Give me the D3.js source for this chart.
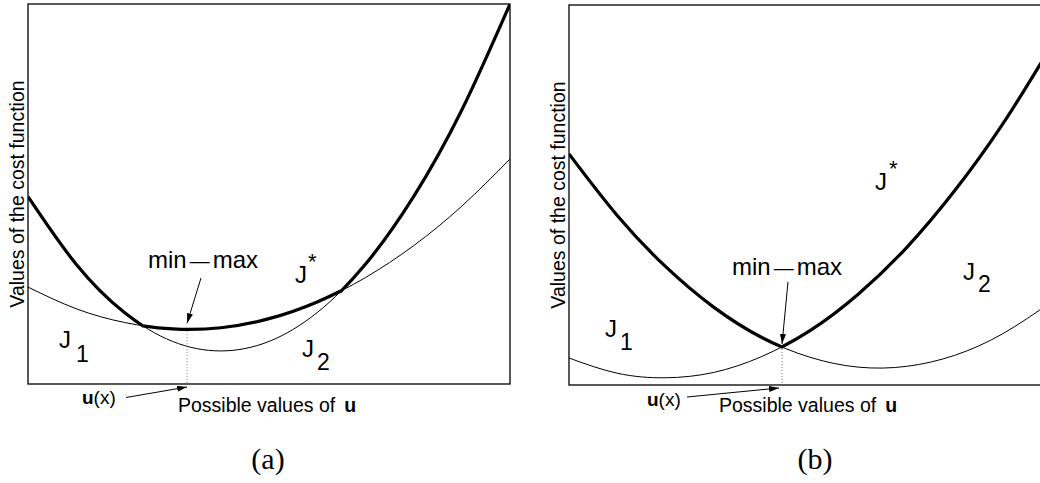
<!DOCTYPE html>
<html>
<head>
<meta charset="utf-8">
<script src="https://cdn.jsdelivr.net/npm/d3@7"></script>
<style>
  body { margin: 0; background: #fff; }
  svg text { font-family: "Liberation Sans", Arial, Helvetica, sans-serif; fill: #000; }
  svg text.cap { font-family: "Liberation Serif", "DejaVu Serif", serif; }
</style>
</head>
<body>
<div id="chart"></div>
<script>
// sampled cost curves, u = 0..10, J in the same 0..10 units
const uGrid = [0, 1, 2, 3, 4, 5, 6, 7, 8, 9, 10];

// panel (a)
const aJ1 = [2.55, 1.98, 1.62, 1.45, 1.48, 1.72, 2.16, 2.80, 3.64, 4.68, 5.92];
const aJ2 = [4.93, 3.15, 1.88, 1.12, 0.87, 1.12, 1.88, 3.15, 4.93, 7.21, 10.0];
const aCross = [2.39, 6.49];
const aMinMax = [3.30, 1.44];

// panel (b)
const bJ1 = [0.71, 0.31, 0.19, 0.33, 0.75, 1.43, 2.39, 3.61, 5.11, 6.87, 8.91];
const bJ2 = [6.08, 4.46, 3.12, 2.05, 1.25, 0.73, 0.47, 0.49, 0.78, 1.35, 2.18];
const bCross = [4.42];
const bMinMax = [4.42, 1.00];

const W = 1040, H = 483;
const svg = d3.select('#chart').append('svg')
  .attr('width', W).attr('height', H)
  .attr('viewBox', `0 0 ${W} ${H}`);
const defs = svg.append('defs');

defs.append('marker')
  .attr('id', 'head')
  .attr('viewBox', '0 0 10 6')
  .attr('refX', 10).attr('refY', 3)
  .attr('markerWidth', 10).attr('markerHeight', 6)
  .attr('markerUnits', 'userSpaceOnUse')
  .attr('orient', 'auto')
  .append('path').attr('d', 'M0,0L10,3L0,6Z').attr('fill', '#000');

function jLabel(g, pos, sub) {
  g.append('text').attr('x', pos[0]).attr('y', pos[1])
    .style('font-size', '24px').text('J');
  g.append('text').attr('x', pos[0] + pos[2]).attr('y', pos[1] + pos[3])
    .style('font-size', sub === '*' ? '22px' : '23px').text(sub);
}

function drawPanel(cfg) {
  const { id, left, top, w, h, j1, j2, cross, minMax, lab } = cfg;
  const x = d3.scaleLinear().domain([0, 10]).range([0, w]);
  const y = d3.scaleLinear().domain([0, 10]).range([h, 0]);
  const g = svg.append('g').attr('transform', `translate(${left},${top})`);

  defs.append('clipPath').attr('id', id + '-plot')
    .append('rect').attr('width', w).attr('height', h);

  const line = d3.line()
    .x((d, i) => x(uGrid[i]))
    .y(d => y(d))
    .curve(d3.curveNatural);

  const plot = g.append('g').attr('clip-path', `url(#${id}-plot)`);

  plot.selectAll('path.thin').data([j1, j2]).join('path')
    .attr('class', 'thin')
    .attr('d', line)
    .attr('fill', 'none').attr('stroke', '#000').attr('stroke-width', 1);

  // J* = upper envelope: between crossings take whichever curve is higher
  const bounds = [0, ...cross, 10];
  d3.pairs(bounds).forEach(([u0, u1], k) => {
    const idx = Math.round((u0 + u1) / 2);
    const upper = j1[idx] > j2[idx] ? j1 : j2;
    const cid = `${id}-seg${k}`;
    defs.append('clipPath').attr('id', cid)
      .append('rect')
      .attr('x', x(u0)).attr('y', -10)
      .attr('width', x(u1) - x(u0)).attr('height', h + 20);
    plot.append('g').attr('clip-path', `url(#${cid})`)
      .append('path')
      .attr('d', line(upper))
      .attr('fill', 'none').attr('stroke', '#000')
      .attr('stroke-width', 3.2).attr('stroke-linejoin', 'round');
  });

  // dotted drop from the min-max point
  const mx = x(minMax[0]), my = y(minMax[1]);
  g.append('line')
    .attr('x1', mx).attr('x2', mx).attr('y1', my + 2).attr('y2', h)
    .attr('stroke', '#777').attr('stroke-width', 1)
    .attr('stroke-dasharray', '1,2');

  // frame
  g.append('rect').attr('width', w).attr('height', h)
    .attr('fill', 'none').attr('stroke', '#000').attr('stroke-width', 1.3);

  // axis titles
  g.append('text')
    .attr('transform', `translate(-4,${h / 2}) rotate(-90)`)
    .attr('text-anchor', 'middle')
    .style('font-size', '19.5px')
    .text('Values of the cost function');

  const xt = g.append('text').attr('x', lab.xTitle[0]).attr('y', lab.xTitle[1])
    .style('font-size', '19.5px');
  xt.append('tspan').text('Possible values of');
  xt.append('tspan').attr('dx', 9).style('font-weight', 'bold').text('u');

  // u(x) label + arrow
  const ux = g.append('text').attr('x', lab.ux[0]).attr('y', lab.ux[1])
    .style('font-size', '19px');
  ux.append('tspan').style('font-weight', 'bold').text('u');
  ux.append('tspan').text('(x)');
  g.append('line')
    .attr('x1', lab.uxArrow[0]).attr('y1', lab.uxArrow[1])
    .attr('x2', mx + lab.uxArrow[2]).attr('y2', h + 3)
    .attr('stroke', '#000').attr('stroke-width', 1)
    .attr('marker-end', 'url(#head)');

  // min-max label + arrow
  const mm = g.append('text').attr('x', lab.mm[0]).attr('y', lab.mm[1])
    .style('font-size', '24px');
  mm.append('tspan').text('min');
  mm.append('tspan').attr('dx', 3).style('font-size', '20px').text('\u2014');
  mm.append('tspan').attr('dx', 3).text('max');
  g.append('line')
    .attr('x1', lab.mmArrow[0]).attr('y1', lab.mmArrow[1])
    .attr('x2', mx).attr('y2', my - lab.mmArrow[2])
    .attr('stroke', '#000').attr('stroke-width', 1)
    .attr('marker-end', 'url(#head)');

  // curve labels
  jLabel(g, lab.J1, '1');
  jLabel(g, lab.J2, '2');
  jLabel(g, lab.Js, '*');

  // caption
  g.append('text').attr('class', 'cap')
    .attr('x', lab.cap[0]).attr('y', lab.cap[1])
    .attr('text-anchor', 'middle')
    .style('font-size', '30px')
    .text(lab.capText);
}

drawPanel({
  id: 'pa', left: 28, top: 4, w: 482, h: 380,
  j1: aJ1, j2: aJ2, cross: aCross, minMax: aMinMax,
  lab: {
    J1: [31, 344, 17, 14], J2: [274, 353, 15, 13], Js: [267, 279, 13, -14],
    mm: [120, 264], mmArrow: [173, 274, 6],
    ux: [54, 400], uxArrow: [98, 393.5, 0],
    xTitle: [150, 408], cap: [240, 465], capText: '(a)'
  }
});

drawPanel({
  id: 'pb', left: 569, top: 5, w: 482, h: 380,
  j1: bJ1, j2: bJ2, cross: bCross, minMax: bMinMax,
  lab: {
    J1: [36, 332, 15, 13], J2: [394, 275, 15, 12], Js: [306, 185, 14, -14],
    mm: [163, 270], mmArrow: [219, 277, 3],
    ux: [78, 401], uxArrow: [118, 392, -3],
    xTitle: [150, 407], cap: [246, 464], capText: '(b)'
  }
});
</script>
</body>
</html>
